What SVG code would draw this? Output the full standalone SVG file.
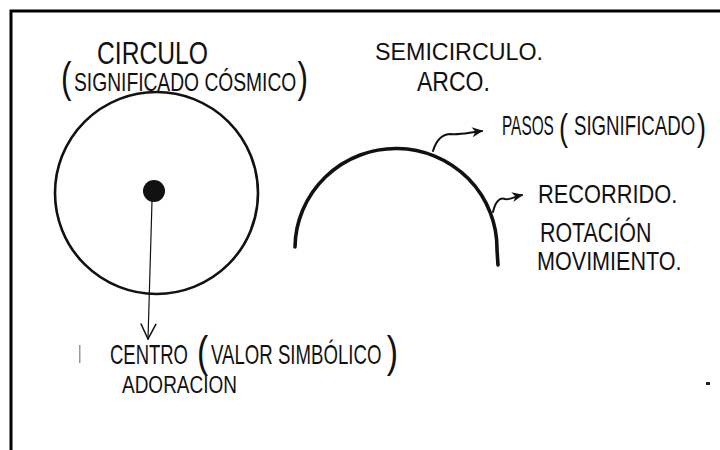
<svg xmlns="http://www.w3.org/2000/svg" width="720" height="450" viewBox="0 0 720 450">
<style>
.t{font-family:"Liberation Sans","DejaVu Sans",sans-serif;fill:#111}
.ln{fill:none;stroke:#111;stroke-linecap:round;stroke-linejoin:round}
</style>
<defs>
<marker id="tri" viewBox="0 0 10 10" refX="9" refY="5" markerWidth="13" markerHeight="11" markerUnits="userSpaceOnUse" orient="auto">
<path d="M0,0.5 L10,5 L0,9.5 L3,5 z" fill="#111"/>
</marker>
<marker id="vee" viewBox="0 0 10 10" refX="9.5" refY="5" markerWidth="17" markerHeight="18" markerUnits="userSpaceOnUse" orient="auto">
<path d="M0.5,0.5 L9.5,5 L0.5,9.5" fill="none" stroke="#111" stroke-width="0.9"/>
</marker>
</defs>
<rect width="720" height="450" fill="#fff"/>
<g id="frame">
<path d="M11 450 L11 11 L720 11" fill="none" stroke="#000" stroke-width="3"/>
</g>
<g id="marks" fill="#999">
<rect x="79" y="345" width="1.5" height="18"/>
<rect x="706" y="382" width="4" height="3" fill="#222"/>
</g>
<g id="circulo">
<ellipse cx="156.5" cy="193" rx="101.5" ry="101" class="ln" stroke-width="2.6"/>
<circle cx="154" cy="191" r="11" fill="#111"/>
<text class="t" font-size="32" transform="translate(97 64) scale(0.771 1)">CIRCULO</text>
<text class="t" font-size="42" transform="translate(61 92) scale(0.75 1)">(</text>
<text class="t" font-size="25" transform="translate(74 91) scale(0.77 1)">SIGNIFICADO CÓSMICO</text>
<text class="t" font-size="42" text-anchor="end" transform="translate(308 92) scale(0.75 1)">)</text>
</g>
<g id="semicirculo">
<path d="M295 247 A101 100 0 0 1 497 250 L498 265" class="ln" stroke-width="3.6"/>
<text class="t" font-size="24" transform="translate(375 60) scale(0.969 1)">SEMICIRCULO.</text>
<text class="t" font-size="28" transform="translate(417 91) scale(0.823 1)">ARCO.</text>
</g>
<g id="pasos">
<text class="t" font-size="27" transform="translate(502 135) scale(0.57 1)">PASOS</text>
<text class="t" font-size="36" transform="translate(559 140) scale(0.75 1)">(</text>
<text class="t" font-size="27" transform="translate(574 135) scale(0.691 1)">SIGNIFICADO</text>
<text class="t" font-size="36" text-anchor="end" transform="translate(706 140) scale(0.75 1)">)</text>
</g>
<g id="recorrido">
<text class="t" font-size="25" transform="translate(538 203) scale(0.873 1)">RECORRIDO.</text>
<text class="t" font-size="28" transform="translate(540 242) scale(0.765 1)">ROTACIÓN</text>
<text class="t" font-size="25" transform="translate(537 270) scale(0.863 1)">MOVIMIENTO.</text>
</g>
<g id="centro">
<text class="t" font-size="27" transform="translate(110 364) scale(0.684 1)">CENTRO</text>
<text class="t" font-size="45" transform="translate(197 367) scale(0.75 1)">(</text>
<text class="t" font-size="27" transform="translate(211 364) scale(0.69 1)">VALOR SIMBÓLICO</text>
<text class="t" font-size="45" text-anchor="end" transform="translate(398 367) scale(0.75 1)">)</text>
<text class="t" font-size="23" transform="translate(122 393) scale(0.826 1)">ADORACION</text>
</g>
<g id="connectors">
<path d="M152 201 L148 339" class="ln" stroke-width="1.2" marker-end="url(#vee)"/>
<path d="M433 151 C436 141 442 134 451 134 C459 135 466 133 482 131" class="ln" stroke-width="2" marker-end="url(#tri)"/>
<path d="M493 212 C495 203 499 197 505 199 C510 200 513 197 522 195" class="ln" stroke-width="2" marker-end="url(#tri)"/>
</g>
</svg>
